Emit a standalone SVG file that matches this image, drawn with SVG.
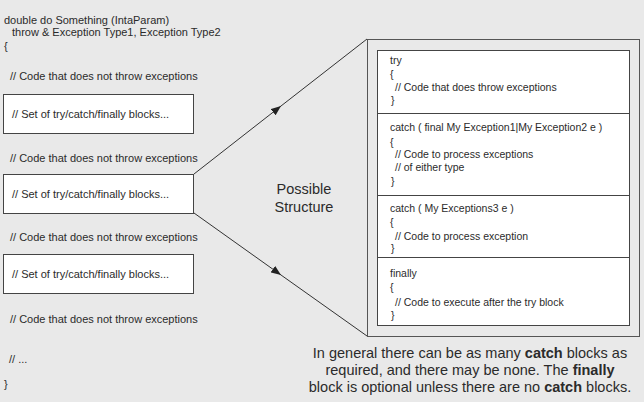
<svg xmlns="http://www.w3.org/2000/svg" width="644" height="402" viewBox="0 0 644 402">
<style>
  text { font-family: "Liberation Sans", Arial, sans-serif; fill: #2b2b2b; }
  .code { font-size: 11px; }
  .rc { font-size: 10.5px; }
  .big { font-size: 14.5px; }
  .note { font-size: 14.5px; }
  .box { fill: #ffffff; stroke: #444444; stroke-width: 1; }
  .outer { fill: none; stroke: #555555; stroke-width: 1; }
  .div { stroke: #444444; stroke-width: 1; }
  .conn { fill: none; stroke: #333333; stroke-width: 1; marker-mid: url(#arrow); }
</style>
<defs>
  <marker id="arrow" viewBox="0 0 10 8" refX="10" refY="4" markerWidth="10" markerHeight="8" markerUnits="userSpaceOnUse" orient="auto">
    <path d="M0,0 L10,4 L0,8 Z" fill="#222222"/>
  </marker>
</defs>
<rect x="0" y="0" width="644" height="402" fill="#e9e9e9"/>

<g id="method-code">
  <text class="code" x="4" y="24">double do Something (IntaParam)</text>
  <text class="code" x="12" y="36">throw &amp; Exception Type1, Exception Type2</text>
  <text class="code" x="4" y="50">{</text>
  <text class="code" x="10" y="80">// Code that does not throw exceptions</text>
  <text class="code" x="10" y="162">// Code that does not throw exceptions</text>
  <text class="code" x="10" y="241">// Code that does not throw exceptions</text>
  <text class="code" x="10" y="323">// Code that does not throw exceptions</text>
  <text class="code" x="9" y="363">// ...</text>
  <text class="code" x="4" y="388">}</text>
</g>

<g id="block1">
  <rect class="box" x="3.5" y="94.5" width="190" height="39"/>
  <text class="code" x="12" y="118">// Set of try/catch/finally blocks...</text>
</g>
<g id="block2">
  <rect class="box" x="3.5" y="174.5" width="190" height="39"/>
  <text class="code" x="12" y="198">// Set of try/catch/finally blocks...</text>
</g>
<g id="block3">
  <rect class="box" x="3.5" y="254.5" width="190" height="39"/>
  <text class="code" x="12" y="278">// Set of try/catch/finally blocks...</text>
</g>

<g id="connectors">
  <polyline class="conn" points="194,174 281,106 367,39"/>
  <polyline class="conn" points="194,213 281,275 367,336"/>
</g>

<g id="possible-structure">
  <text class="big" x="304" y="194" text-anchor="middle">Possible</text>
  <text class="big" x="304" y="212" text-anchor="middle">Structure</text>
</g>

<g id="structure">
  <rect class="outer" x="367.5" y="39.5" width="272" height="297"/>
  <rect class="box" x="377.5" y="50.5" width="252" height="275"/>
  <line class="div" x1="377.5" y1="113.5" x2="629.5" y2="113.5"/>
  <line class="div" x1="377.5" y1="195.5" x2="629.5" y2="195.5"/>
  <line class="div" x1="377.5" y1="257.5" x2="629.5" y2="257.5"/>
</g>

<g id="try-block">
  <text class="rc" x="390" y="64">try</text>
  <text class="rc" x="390" y="78">{</text>
  <text class="rc" x="395" y="91">// Code that does throw exceptions</text>
  <text class="rc" x="391" y="104">}</text>
</g>
<g id="catch-block-1">
  <text class="rc" x="390" y="131">catch ( final My Exception1|My Exception2 e )</text>
  <text class="rc" x="390" y="146">{</text>
  <text class="rc" x="395" y="158">// Code to process exceptions</text>
  <text class="rc" x="395" y="171">// of either type</text>
  <text class="rc" x="391" y="185">}</text>
</g>
<g id="catch-block-2">
  <text class="rc" x="390" y="212">catch ( My Exceptions3 e )</text>
  <text class="rc" x="390" y="226">{</text>
  <text class="rc" x="395" y="240">// Code to process exception</text>
  <text class="rc" x="391" y="252">}</text>
</g>
<g id="finally-block">
  <text class="rc" x="390" y="277">finally</text>
  <text class="rc" x="390" y="291">{</text>
  <text class="rc" x="395" y="306">// Code to execute after the try block</text>
  <text class="rc" x="391" y="319">}</text>
</g>

<g id="note">
  <text class="note" x="470" y="358" text-anchor="middle">In general there can be as many <tspan font-weight="bold">catch</tspan> blocks as</text>
  <text class="note" x="470" y="375" text-anchor="middle">required, and there may be none. The <tspan font-weight="bold">finally</tspan></text>
  <text class="note" x="470" y="392" text-anchor="middle">block is optional unless there are no <tspan font-weight="bold">catch</tspan> blocks.</text>
</g>
</svg>
